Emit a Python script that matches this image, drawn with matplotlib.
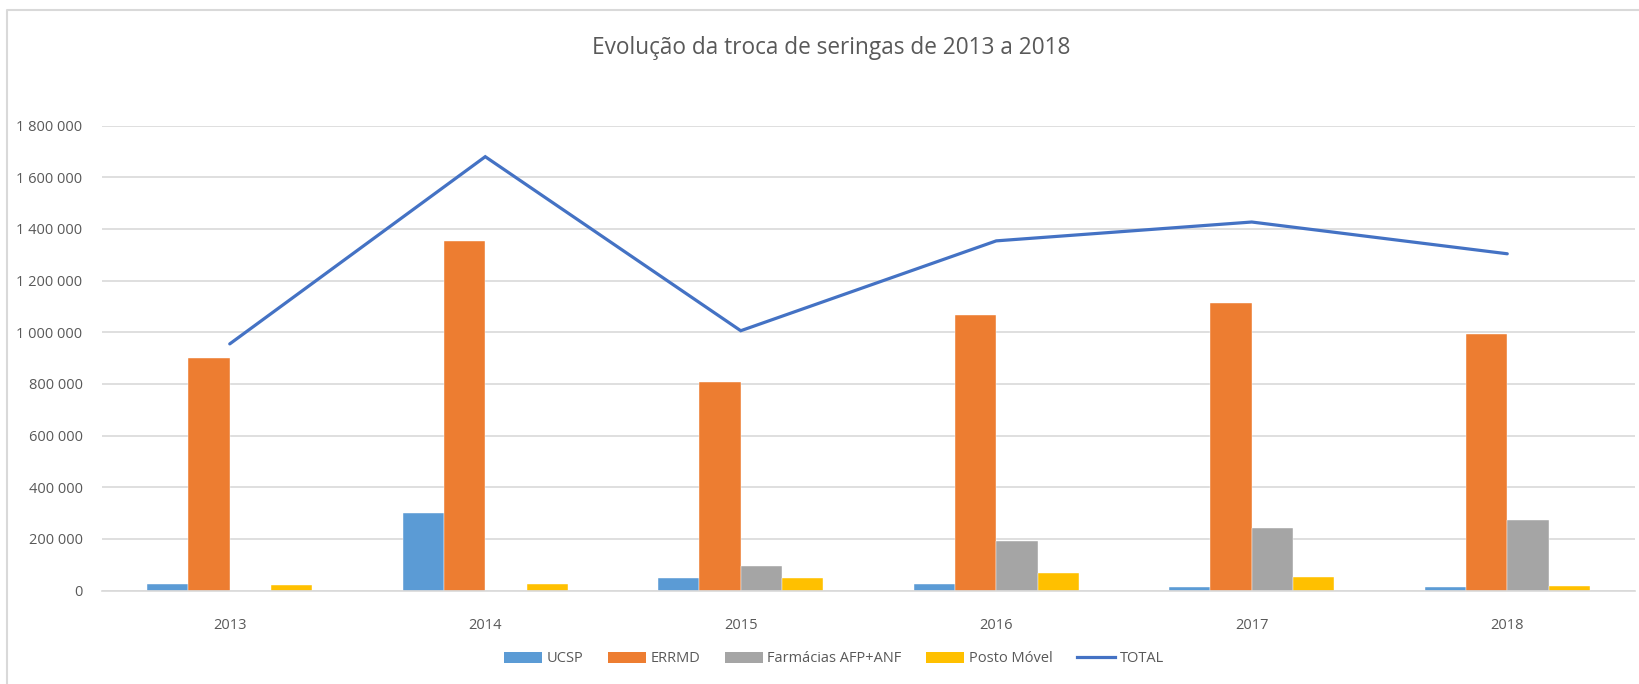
import matplotlib
matplotlib.use("Agg")
import matplotlib.pyplot as plt
import numpy as np
from matplotlib.ticker import FuncFormatter, MultipleLocator
from matplotlib.lines import Line2D
from matplotlib.patches import Patch

plt.rcParams['font.family'] = ['Open Sans', 'DejaVu Sans']

title = "Evolução da troca de seringas de 2013 a 2018"
years = ["2013", "2014", "2015", "2016", "2017", "2018"]
series_names = ["UCSP", "ERRMD", "Farmácias AFP+ANF", "Posto Móvel"]
ucsp = [25000, 301000, 50000, 25000, 14000, 14000]
errmd = [900000, 1352000, 806000, 1065000, 1114000, 994000]
farmacias = [0, 0, 94000, 190000, 241000, 274000]
posto_movel = [21000, 25000, 50000, 69000, 54000, 17000]
total = [955000, 1680000, 1006000, 1354000, 1427000, 1304000]
total_name = "TOTAL"

bar_colors = ["#5B9BD5", "#ED7D31", "#A5A5A5", "#FFC000"]
line_color = "#4472C4"
text_color = "#595959"
grid_color = "#D9D9D9"

W, H = 1640, 684
fig = plt.figure(figsize=(W / 100, H / 100), dpi=100)
ax = fig.add_axes([102 / W, (H - 590.5) / H, (1635 - 102) / W, (590.5 - 125.7) / H])

x = np.arange(len(years))
n = 4
gap = 2.19
bw = 1.0 / (n + gap)
all_series = [ucsp, errmd, farmacias, posto_movel]
for i, (vals, col, name) in enumerate(zip(all_series, bar_colors, series_names)):
    offs = (i - (n - 1) / 2) * bw
    ax.bar(x + offs, vals, width=bw, color=col, label=name, zorder=2,
           edgecolor="white", linewidth=0.3)

ax.plot(x, total, color=line_color, linewidth=2.3, zorder=3, label=total_name,
        solid_joinstyle="miter", solid_capstyle="round")

ax.set_xlim(-0.5, len(years) - 0.5)
ax.set_ylim(0, 1800000)
ax.yaxis.set_major_locator(MultipleLocator(200000))
ax.yaxis.set_major_formatter(FuncFormatter(lambda v, p: f"{v:,.0f}".replace(",", " ")))
ax.set_xticks(x)
ax.set_xticklabels(years)
ax.grid(axis="y", color=grid_color, linewidth=1.2, zorder=0)
ax.set_axisbelow(True)
for s in ["top", "right", "left"]:
    ax.spines[s].set_visible(False)
ax.spines["bottom"].set_color(grid_color)
ax.spines["bottom"].set_linewidth(1.2)
ax.tick_params(axis="both", length=0, labelsize=10.5, colors=text_color)
ax.tick_params(axis="y", pad=14)
ax.tick_params(axis="x", pad=20)

fig.text(831 / W, 1 - 48 / H, title, ha="center", va="center", fontsize=16.3, color=text_color)

handles = [Patch(facecolor=c, edgecolor="none") for c in bar_colors]
handles.append(Line2D([0], [0], color=line_color, linewidth=2.3))
labels = series_names + [total_name]
leg = fig.legend(handles, labels, loc="center", bbox_to_anchor=(834 / W, 1 - 659 / H),
                 ncol=5, frameon=False, fontsize=10.5, handlelength=2.6, handleheight=0.8,
                 columnspacing=1.7, handletextpad=0.3)
for t in leg.get_texts():
    t.set_color(text_color)

fig.add_artist(Line2D([7 / W, 7 / W, 1.0], [0.0, 1 - 10 / H, 1 - 10 / H],
                      transform=fig.transFigure, color=grid_color, linewidth=1.5))

fig.savefig("out.png", dpi=100, facecolor="white")
